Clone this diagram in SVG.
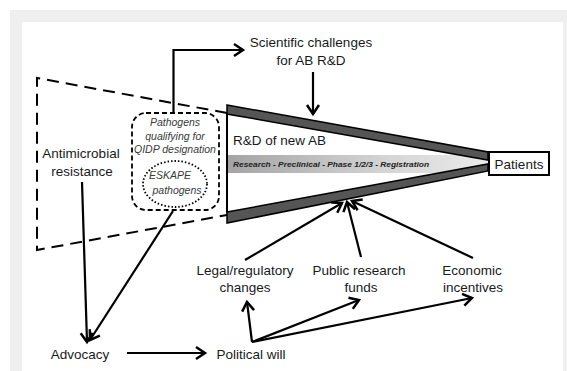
<svg xmlns="http://www.w3.org/2000/svg" width="567" height="371" viewBox="0 0 567 371">
<style>
.t{font-family:"Liberation Sans",Arial,sans-serif;font-size:13.5px;fill:#1a1a1a;text-anchor:middle}
.it{font-family:"Liberation Sans",Arial,sans-serif;font-size:10.5px;font-style:italic;fill:#3a3a3a;text-anchor:middle}
.ln{fill:none;stroke:#000;stroke-width:2.2}
.ar{fill:none;stroke:#000;stroke-width:2.2;marker-end:url(#ah)}
.band{fill:#555;stroke:#000;stroke-width:1.5;stroke-linejoin:miter}
</style>
<defs>
<marker id="ah" markerUnits="userSpaceOnUse" markerWidth="20" markerHeight="20" viewBox="-12 -10 14 20" refX="0" refY="0" orient="auto" overflow="visible">
<path d="M-9,-6 L0,0 L-9,6" fill="none" stroke="#000" stroke-width="2.5" stroke-linejoin="miter"/>
</marker>
<linearGradient id="bar" x1="0" y1="0" x2="1" y2="0">
<stop offset="0" stop-color="#a4a4a4"/>
<stop offset="0.6" stop-color="#d4d4d4"/>
<stop offset="1" stop-color="#ececec"/>
</linearGradient>
<clipPath id="funnelClip">
<polygon points="227,114 488,160 488,164 227,212"/>
</clipPath>
</defs>
<rect x="0" y="0" width="567" height="371" fill="#fff"/>
<rect x="10" y="10" width="557" height="361" fill="#efefef"/>
<rect x="22" y="22" width="541" height="349" fill="#fff"/>

<g id="scope">
<path d="M227,113 L37,78 L37,250 L227,215" fill="none" stroke="#000" stroke-width="2" stroke-dasharray="12,7"/>
</g>

<g id="funnel">
<rect x="227" y="155" width="262" height="18" fill="url(#bar)" clip-path="url(#funnelClip)"/>
<line x1="227" y1="113" x2="227" y2="213" stroke="#000" stroke-width="2"/>
<polygon class="band" points="227,105 488,152 488,160 227,114"/>
<polygon class="band" points="227,212 488,164 488,171 227,223"/>
<text x="233" y="145" class="t" style="text-anchor:start">R&amp;D of new AB</text>
<text x="233" y="167" font-family="Liberation Sans,Arial,sans-serif" font-size="7.5" font-weight="bold" font-style="italic" fill="#222" textLength="196" lengthAdjust="spacingAndGlyphs">Research - Preclinical - Phase 1/2/3 - Registration</text>
</g>

<g id="patients">
<rect x="489" y="152" width="60" height="23" fill="#fff" stroke="#000" stroke-width="2"/>
<text x="519" y="168.5" class="t">Patients</text>
</g>

<g id="pathogens">
<rect x="132" y="113" width="87" height="97" rx="14" ry="14" fill="#fff" stroke="#000" stroke-width="1.8" stroke-dasharray="5,3"/>
<text x="175" y="126" class="it">Pathogens</text>
<text x="175" y="140" class="it">qualifying for</text>
<text x="175" y="153" class="it">QIDP designation</text>
</g>

<g id="eskape">
<ellipse cx="175" cy="184" rx="32" ry="23" fill="#fff" stroke="#000" stroke-width="1.8" stroke-dasharray="1.5,2"/>
<text x="170" y="179" class="it">ESKAPE</text>
<text x="177" y="194" class="it">pathogens</text>
</g>

<g id="scientific">
<text x="311" y="47" class="t">Scientific challenges</text>
<text x="311" y="65" class="t">for AB R&amp;D</text>
</g>

<g id="amr">
<text x="81" y="158" class="t">Antimicrobial</text>
<text x="82" y="176" class="t">resistance</text>
</g>

<g id="advocacy"><text x="80" y="359" class="t">Advocacy</text></g>
<g id="political"><text x="251" y="359" class="t">Political will</text></g>
<g id="legal">
<text x="245" y="275" class="t">Legal/regulatory</text>
<text x="245" y="292" class="t">changes</text>
</g>
<g id="public">
<text x="359" y="275" class="t">Public research</text>
<text x="361" y="292" class="t">funds</text>
</g>
<g id="economic">
<text x="472" y="275" class="t">Economic</text>
<text x="473" y="292" class="t">incentives</text>
</g>

<g id="connectors">
<path class="ar" d="M173.5,113 L173.5,50 L243,50"/>
<line class="ar" x1="313" y1="72" x2="313" y2="114"/>
<line class="ar" x1="82" y1="182" x2="87" y2="342"/>
<line class="ar" x1="173" y1="211" x2="90" y2="340"/>
<line class="ar" x1="127" y1="353" x2="205" y2="353"/>
<line class="ar" x1="252" y1="342" x2="247" y2="302"/>
<line class="ar" x1="252" y1="342" x2="359" y2="300"/>
<line class="ar" x1="252" y1="342" x2="472" y2="298"/>
<line class="ar" x1="245" y1="260" x2="342" y2="203"/>
<line class="ar" x1="361" y1="257" x2="347" y2="202"/>
<line class="ar" x1="473" y1="258" x2="352" y2="201"/>
</g>
</svg>
